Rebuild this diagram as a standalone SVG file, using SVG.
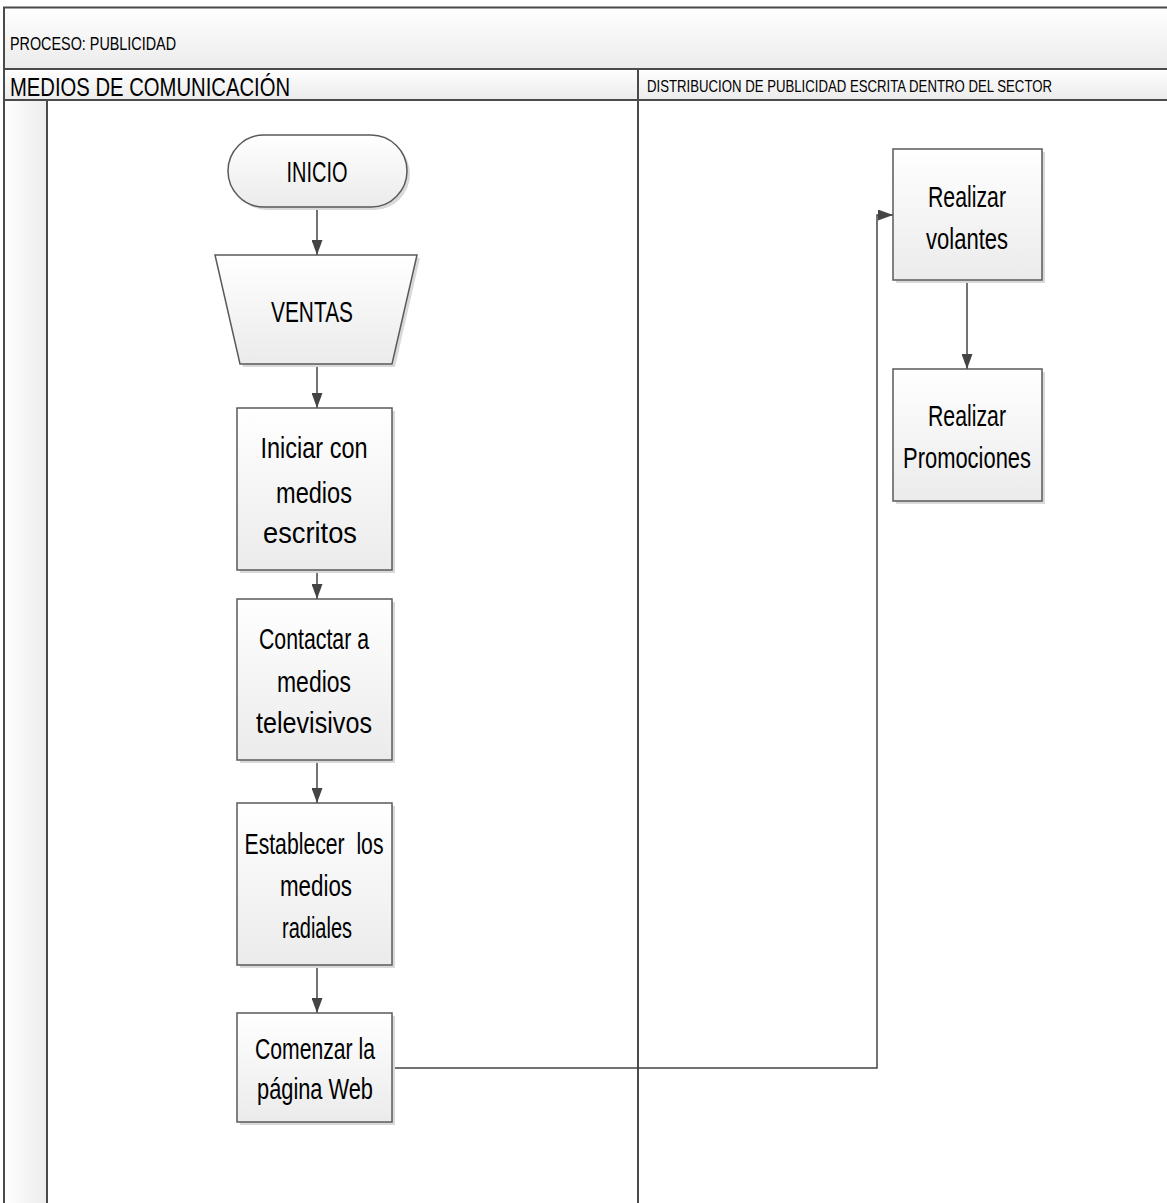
<svg xmlns="http://www.w3.org/2000/svg" width="1167" height="1203" viewBox="0 0 1167 1203">
<style>
.t{font-family:"Liberation Sans",Arial,sans-serif;font-size:29px;fill:#000;text-anchor:middle;white-space:pre}
.h{font-family:"Liberation Sans",Arial,sans-serif;fill:#000}
.box{fill:url(#gv);stroke:#5a5a5a;stroke-width:1.5}
.sh{fill:#d9d9d9}
.lane{fill:none;stroke:#4a4a4a;stroke-width:2}
.c{fill:none;stroke:#444;stroke-width:1.5}
</style>
<defs>
<linearGradient id="gv" x1="0" y1="0" x2="0" y2="1"><stop offset="0" stop-color="#ffffff"/><stop offset="1" stop-color="#ebebeb"/></linearGradient>
<linearGradient id="gh" x1="0" y1="0" x2="1" y2="0"><stop offset="0" stop-color="#ffffff"/><stop offset="1" stop-color="#ececec"/></linearGradient>
<marker id="ar" markerUnits="userSpaceOnUse" markerWidth="15" markerHeight="11" viewBox="0 0 15 11" refX="15" refY="5.5" orient="auto"><path d="M0,0 L15,5.5 L0,11 z" fill="#444"/></marker>
</defs>
<rect width="1167" height="1203" fill="#fff"/>
<g id="pool">
<rect x="4" y="7.5" width="1170" height="61.5" fill="url(#gv)"/>
<rect x="4" y="69" width="1170" height="31" fill="url(#gv)"/>
<rect x="4" y="100" width="43" height="1110" fill="url(#gh)"/>
<path class="lane" d="M1170,7.5 H4 V1210 M4,69 H1170 M4,100 H1170 M47,100 V1210 M638,69 V1210"/>
<text class="h" x="10" y="50" font-size="18" textLength="166" lengthAdjust="spacingAndGlyphs">PROCESO: PUBLICIDAD</text>
<text class="h" x="10" y="96" font-size="26.5" textLength="280" lengthAdjust="spacingAndGlyphs">MEDIOS DE COMUNICACIÓN</text>
<text class="h" x="647" y="92" font-size="16.5" textLength="405" lengthAdjust="spacingAndGlyphs">DISTRIBUCION DE PUBLICIDAD ESCRITA DENTRO DEL SECTOR</text>
</g>
<g id="connectors">
<path class="c" d="M317,207 V255" marker-end="url(#ar)"/>
<path class="c" d="M317,364 V408" marker-end="url(#ar)"/>
<path class="c" d="M317,570 V599" marker-end="url(#ar)"/>
<path class="c" d="M317,760 V803" marker-end="url(#ar)"/>
<path class="c" d="M317,965 V1013" marker-end="url(#ar)"/>
<path class="c" d="M392,1068 H877 V215 H893" marker-end="url(#ar)"/>
<path class="c" d="M967,280 V369" marker-end="url(#ar)"/>
</g>
<g id="inicio">
<rect class="sh" x="231" y="138" width="179" height="72" rx="36"/>
<rect class="box" x="228" y="135" width="179" height="72" rx="36"/>
<text class="t" x="317" y="182" textLength="61" lengthAdjust="spacingAndGlyphs">INICIO</text>
</g>
<g id="ventas">
<polygon class="sh" points="218,258 420,258 395,367 243,367"/>
<polygon class="box" points="215,255 417,255 392,364 240,364"/>
<text class="t" x="312" y="322" textLength="82" lengthAdjust="spacingAndGlyphs">VENTAS</text>
</g>
<g id="iniciar">
<rect class="sh" x="240" y="411" width="155" height="162"/>
<rect class="box" x="237" y="408" width="155" height="162"/>
<text class="t" x="314" y="458" textLength="107" lengthAdjust="spacingAndGlyphs">Iniciar con</text>
<text class="t" x="314" y="503" textLength="76" lengthAdjust="spacingAndGlyphs">medios</text>
<text class="t" x="310" y="543" textLength="94" lengthAdjust="spacingAndGlyphs">escritos</text>
</g>
<g id="contactar">
<rect class="sh" x="240" y="602" width="155" height="161"/>
<rect class="box" x="237" y="599" width="155" height="161"/>
<text class="t" x="314" y="649" textLength="110" lengthAdjust="spacingAndGlyphs">Contactar a</text>
<text class="t" x="314" y="692" textLength="74" lengthAdjust="spacingAndGlyphs">medios</text>
<text class="t" x="314" y="733" textLength="116" lengthAdjust="spacingAndGlyphs">televisivos</text>
</g>
<g id="establecer">
<rect class="sh" x="240" y="806" width="155" height="162"/>
<rect class="box" x="237" y="803" width="155" height="162"/>
<text class="t" x="314" y="854" textLength="139" lengthAdjust="spacingAndGlyphs">Establecer  los</text>
<text class="t" x="316" y="896" textLength="72" lengthAdjust="spacingAndGlyphs">medios</text>
<text class="t" x="317" y="938" textLength="70" lengthAdjust="spacingAndGlyphs">radiales</text>
</g>
<g id="comenzar">
<rect class="sh" x="240" y="1016" width="155" height="109"/>
<rect class="box" x="237" y="1013" width="155" height="109"/>
<text class="t" x="315" y="1059" textLength="120" lengthAdjust="spacingAndGlyphs">Comenzar la</text>
<text class="t" x="315" y="1099" textLength="116" lengthAdjust="spacingAndGlyphs">página Web</text>
</g>
<g id="volantes">
<rect class="sh" x="896" y="152" width="149" height="131"/>
<rect class="box" x="893" y="149" width="149" height="131"/>
<text class="t" x="967" y="207" textLength="78" lengthAdjust="spacingAndGlyphs">Realizar</text>
<text class="t" x="967" y="249" textLength="82" lengthAdjust="spacingAndGlyphs">volantes</text>
</g>
<g id="promociones">
<rect class="sh" x="896" y="372" width="149" height="132"/>
<rect class="box" x="893" y="369" width="149" height="132"/>
<text class="t" x="967" y="426" textLength="78" lengthAdjust="spacingAndGlyphs">Realizar</text>
<text class="t" x="967" y="468" textLength="128" lengthAdjust="spacingAndGlyphs">Promociones</text>
</g>
</svg>
